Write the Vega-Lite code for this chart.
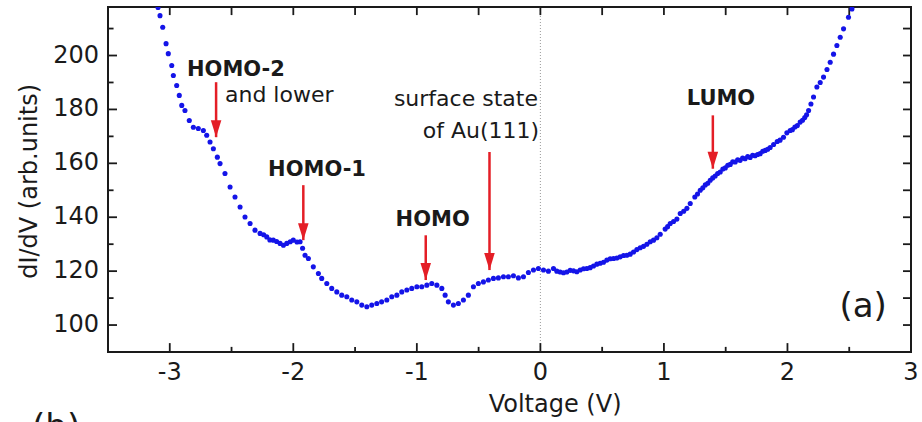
{
  "$schema": "https://vega.github.io/schema/vega-lite/v6.json",
  "width": 803,
  "height": 345,
  "autosize": {"type": "none"},
  "padding": {"left": 108, "top": 7, "right": 11, "bottom": 70},
  "background": "white",
  "config": {
    "view": {"stroke": "#1a1a1a", "strokeWidth": 2},
    "font": "DejaVu Sans"
  },
  "datasets": {
    "curve": [
      {"v": -3.095, "g": 217.8}, {"v": -3.079, "g": 214.8}, {"v": -3.057, "g": 210.5}, {"v": -3.030, "g": 204.4},
      {"v": -3.012, "g": 200.7}, {"v": -2.984, "g": 196.3}, {"v": -2.971, "g": 192.6}, {"v": -2.944, "g": 188.9},
      {"v": -2.923, "g": 185.2}, {"v": -2.903, "g": 181.5}, {"v": -2.877, "g": 179.6}, {"v": -2.842, "g": 175.9},
      {"v": -2.809, "g": 173.4}, {"v": -2.769, "g": 172.9}, {"v": -2.728, "g": 172.2}, {"v": -2.701, "g": 170.4},
      {"v": -2.674, "g": 167.9}, {"v": -2.647, "g": 165.4}, {"v": -2.615, "g": 162.3}, {"v": -2.593, "g": 159.9},
      {"v": -2.553, "g": 156.2}, {"v": -2.512, "g": 151.2}, {"v": -2.472, "g": 147.5}, {"v": -2.431, "g": 143.8},
      {"v": -2.391, "g": 140.1}, {"v": -2.350, "g": 137.7}, {"v": -2.310, "g": 135.2}, {"v": -2.269, "g": 134.0},
      {"v": -2.240, "g": 133.5}, {"v": -2.215, "g": 132.7}, {"v": -2.190, "g": 131.6}, {"v": -2.162, "g": 131.5},
      {"v": -2.135, "g": 131.0}, {"v": -2.107, "g": 130.3}, {"v": -2.080, "g": 129.6}, {"v": -2.053, "g": 130.3},
      {"v": -2.025, "g": 130.9}, {"v": -2.000, "g": 131.5}, {"v": -1.970, "g": 130.8}, {"v": -1.945, "g": 130.9},
      {"v": -1.925, "g": 128.5}, {"v": -1.905, "g": 125.9}, {"v": -1.878, "g": 124.7}, {"v": -1.838, "g": 121.6},
      {"v": -1.797, "g": 119.1}, {"v": -1.770, "g": 117.3}, {"v": -1.729, "g": 115.4}, {"v": -1.689, "g": 113.6},
      {"v": -1.648, "g": 112.3}, {"v": -1.608, "g": 111.1}, {"v": -1.567, "g": 110.5}, {"v": -1.527, "g": 109.3},
      {"v": -1.486, "g": 108.6}, {"v": -1.446, "g": 107.4}, {"v": -1.405, "g": 106.8}, {"v": -1.365, "g": 107.4},
      {"v": -1.324, "g": 108.0}, {"v": -1.285, "g": 108.6}, {"v": -1.243, "g": 109.3}, {"v": -1.203, "g": 110.5},
      {"v": -1.162, "g": 111.1}, {"v": -1.122, "g": 112.3}, {"v": -1.081, "g": 113.0}, {"v": -1.041, "g": 113.6},
      {"v": -1.000, "g": 114.2}, {"v": -0.960, "g": 114.2}, {"v": -0.919, "g": 114.8}, {"v": -0.879, "g": 115.4},
      {"v": -0.838, "g": 114.8}, {"v": -0.798, "g": 113.6}, {"v": -0.771, "g": 111.1}, {"v": -0.745, "g": 108.6},
      {"v": -0.704, "g": 107.4}, {"v": -0.664, "g": 108.0}, {"v": -0.623, "g": 109.3}, {"v": -0.583, "g": 111.1},
      {"v": -0.542, "g": 114.2}, {"v": -0.502, "g": 115.4}, {"v": -0.461, "g": 116.0}, {"v": -0.421, "g": 116.7},
      {"v": -0.380, "g": 117.3}, {"v": -0.340, "g": 117.5}, {"v": -0.299, "g": 117.9}, {"v": -0.259, "g": 117.9},
      {"v": -0.218, "g": 118.3}, {"v": -0.178, "g": 117.5}, {"v": -0.137, "g": 117.9}, {"v": -0.097, "g": 119.5},
      {"v": -0.056, "g": 120.4}, {"v": -0.016, "g": 121.0}, {"v": 0.025, "g": 120.4}, {"v": 0.065, "g": 120.0},
      {"v": 0.106, "g": 121.0}, {"v": 0.133, "g": 120.0}, {"v": 0.160, "g": 119.7}, {"v": 0.187, "g": 119.4},
      {"v": 0.214, "g": 119.7}, {"v": 0.241, "g": 120.3}, {"v": 0.268, "g": 120.1}, {"v": 0.295, "g": 119.8},
      {"v": 0.322, "g": 120.4}, {"v": 0.349, "g": 120.9}, {"v": 0.376, "g": 121.0}, {"v": 0.403, "g": 121.3},
      {"v": 0.430, "g": 121.9}, {"v": 0.457, "g": 122.6}, {"v": 0.484, "g": 122.9}, {"v": 0.511, "g": 123.3},
      {"v": 0.538, "g": 124.1}, {"v": 0.565, "g": 124.6}, {"v": 0.592, "g": 124.7}, {"v": 0.619, "g": 124.9},
      {"v": 0.646, "g": 125.3}, {"v": 0.673, "g": 125.8}, {"v": 0.700, "g": 125.9}, {"v": 0.727, "g": 126.3},
      {"v": 0.754, "g": 127.1}, {"v": 0.781, "g": 128.0}, {"v": 0.808, "g": 128.7}, {"v": 0.835, "g": 129.2},
      {"v": 0.862, "g": 130.0}, {"v": 0.889, "g": 130.9}, {"v": 0.916, "g": 131.5}, {"v": 0.943, "g": 132.4},
      {"v": 0.970, "g": 133.7}, {"v": 1.010, "g": 135.6}, {"v": 1.030, "g": 136.5}, {"v": 1.051, "g": 137.7},
      {"v": 1.078, "g": 138.4}, {"v": 1.105, "g": 139.3}, {"v": 1.132, "g": 141.4}, {"v": 1.160, "g": 142.2},
      {"v": 1.186, "g": 143.3}, {"v": 1.213, "g": 145.1}, {"v": 1.250, "g": 147.5}, {"v": 1.272, "g": 148.6},
      {"v": 1.294, "g": 150.0}, {"v": 1.315, "g": 150.9}, {"v": 1.335, "g": 152.0}, {"v": 1.355, "g": 152.6},
      {"v": 1.375, "g": 153.7}, {"v": 1.395, "g": 154.6}, {"v": 1.415, "g": 155.3}, {"v": 1.435, "g": 156.2},
      {"v": 1.456, "g": 156.8}, {"v": 1.477, "g": 157.9}, {"v": 1.497, "g": 158.3}, {"v": 1.517, "g": 159.3},
      {"v": 1.537, "g": 159.6}, {"v": 1.557, "g": 160.6}, {"v": 1.577, "g": 160.5}, {"v": 1.597, "g": 161.3},
      {"v": 1.617, "g": 161.1}, {"v": 1.637, "g": 162.0}, {"v": 1.657, "g": 161.7}, {"v": 1.678, "g": 162.5},
      {"v": 1.698, "g": 162.2}, {"v": 1.718, "g": 163.0}, {"v": 1.738, "g": 162.8}, {"v": 1.758, "g": 163.3},
      {"v": 1.779, "g": 163.6}, {"v": 1.800, "g": 164.5}, {"v": 1.820, "g": 164.8}, {"v": 1.840, "g": 165.2},
      {"v": 1.860, "g": 165.9}, {"v": 1.888, "g": 167.0}, {"v": 1.917, "g": 168.1}, {"v": 1.940, "g": 168.6},
      {"v": 1.968, "g": 169.7}, {"v": 1.995, "g": 171.3}, {"v": 2.022, "g": 172.2}, {"v": 2.040, "g": 172.5},
      {"v": 2.060, "g": 173.5}, {"v": 2.080, "g": 174.0}, {"v": 2.103, "g": 175.3}, {"v": 2.122, "g": 176.0},
      {"v": 2.140, "g": 177.0}, {"v": 2.155, "g": 178.0}, {"v": 2.171, "g": 179.6}, {"v": 2.190, "g": 182.0},
      {"v": 2.211, "g": 184.6}, {"v": 2.238, "g": 188.3}, {"v": 2.265, "g": 190.0}, {"v": 2.292, "g": 192.0},
      {"v": 2.320, "g": 194.8}, {"v": 2.346, "g": 197.5}, {"v": 2.373, "g": 200.5}, {"v": 2.400, "g": 203.7},
      {"v": 2.427, "g": 206.8}, {"v": 2.454, "g": 209.9}, {"v": 2.494, "g": 214.2}, {"v": 2.522, "g": 217.3}
    ],
    "arrows": [
      {"v": -2.625, "top": 190.1, "tip": 169.7},
      {"v": -1.919, "top": 151.9, "tip": 131.5},
      {"v": -0.928, "top": 133.3, "tip": 116.7},
      {"v": -0.412, "top": 164.2, "tip": 120.4},
      {"v": 1.396, "top": 177.8, "tip": 158.0}
    ],
    "bold": [
      {"v": -2.464, "g": 194.8, "label": "HOMO-2"},
      {"v": -1.808, "g": 157.4, "label": "HOMO-1"},
      {"v": -0.872, "g": 138.9, "label": "HOMO"},
      {"v": 1.462, "g": 184.0, "label": "LUMO"}
    ],
    "leftText": [
      {"v": -2.553, "g": 185.2, "label": "and lower"}
    ],
    "rightText": [
      {"v": -0.02, "g": 183.7, "label": "surface state"},
      {"v": -0.01, "g": 171.9, "label": "of Au(111)"}
    ],
    "panel": [
      {"v": 2.613, "g": 106.7, "label": "(a)"}
    ],
    "panelB": [
      {"v": -3.92, "g": 58.0, "label": "(b)"}
    ],
    "zero": [{"v": 0}],
    "xMajor": [{"v": -3}, {"v": -2}, {"v": -1}, {"v": 0}, {"v": 1}, {"v": 2}],
    "xMinor": [{"v": -2.5}, {"v": -1.5}, {"v": -0.5}, {"v": 0.5}, {"v": 1.5}, {"v": 2.5}],
    "xTop": [{"v": -3}, {"v": -2.5}, {"v": -2}, {"v": -1.5}, {"v": -1}, {"v": -0.5}, {"v": 0}, {"v": 0.5}, {"v": 1}, {"v": 1.5}, {"v": 2}, {"v": 2.5}],
    "yMajor": [{"g": 100}, {"g": 120}, {"g": 140}, {"g": 160}, {"g": 180}, {"g": 200}],
    "yMinor": [{"g": 110}, {"g": 130}, {"g": 150}, {"g": 170}, {"g": 190}, {"g": 210}],
    "yRight": [{"g": 100}, {"g": 110}, {"g": 120}, {"g": 130}, {"g": 140}, {"g": 150}, {"g": 160}, {"g": 170}, {"g": 180}, {"g": 190}, {"g": 200}, {"g": 210}],
    "xLabels": [{"v": -3, "label": "-3"}, {"v": -2, "label": "-2"}, {"v": -1, "label": "-1"}, {"v": 0, "label": "0"}, {"v": 1, "label": "1"}, {"v": 2, "label": "2"}, {"v": 3, "label": "3"}],
    "yLabels": [{"g": 100, "label": "100"}, {"g": 120, "label": "120"}, {"g": 140, "label": "140"}, {"g": 160, "label": "160"}, {"g": 180, "label": "180"}, {"g": 200, "label": "200"}],
    "xTitle": [{"v": 0.119, "label": "Voltage (V)"}],
    "yTitle": [{"g": 153.3, "label": "dI/dV  (arb.units)"}]
  },
  "layer": [
    {
      "data": {"name": "zero"},
      "mark": {"type": "rule", "color": "#9a9a9a", "strokeDash": [1, 2], "strokeWidth": 1},
      "encoding": {
        "x": {"field": "v", "type": "quantitative", "scale": {"domain": [-3.5, 3], "nice": false, "zero": false}, "axis": null}
      }
    },
    {
      "data": {"name": "xMajor"},
      "mark": {"type": "rule", "color": "#1a1a1a", "strokeWidth": 1.8},
      "encoding": {
        "x": {"field": "v", "type": "quantitative", "scale": {"domain": [-3.5, 3], "nice": false, "zero": false}, "axis": null},
        "y": {"datum": 90, "type": "quantitative", "scale": {"domain": [90, 218], "nice": false, "zero": false}, "axis": null},
        "y2": {"datum": 93.3}
      }
    },
    {
      "data": {"name": "xMinor"},
      "mark": {"type": "rule", "color": "#1a1a1a", "strokeWidth": 1.8},
      "encoding": {
        "x": {"field": "v", "type": "quantitative", "scale": {"domain": [-3.5, 3], "nice": false, "zero": false}, "axis": null},
        "y": {"datum": 90, "type": "quantitative", "scale": {"domain": [90, 218], "nice": false, "zero": false}, "axis": null},
        "y2": {"datum": 91.9}
      }
    },
    {
      "data": {"name": "xTop"},
      "mark": {"type": "rule", "color": "#1a1a1a", "strokeWidth": 1.8},
      "encoding": {
        "x": {"field": "v", "type": "quantitative", "scale": {"domain": [-3.5, 3], "nice": false, "zero": false}, "axis": null},
        "y": {"datum": 218, "type": "quantitative", "scale": {"domain": [90, 218], "nice": false, "zero": false}, "axis": null},
        "y2": {"datum": 215.0}
      }
    },
    {
      "data": {"name": "yMajor"},
      "mark": {"type": "rule", "color": "#1a1a1a", "strokeWidth": 1.8},
      "encoding": {
        "y": {"field": "g", "type": "quantitative", "scale": {"domain": [90, 218], "nice": false, "zero": false}, "axis": null},
        "x": {"datum": -3.5, "type": "quantitative", "scale": {"domain": [-3.5, 3], "nice": false, "zero": false}, "axis": null},
        "x2": {"datum": -3.427}
      }
    },
    {
      "data": {"name": "yMinor"},
      "mark": {"type": "rule", "color": "#1a1a1a", "strokeWidth": 1.8},
      "encoding": {
        "y": {"field": "g", "type": "quantitative", "scale": {"domain": [90, 218], "nice": false, "zero": false}, "axis": null},
        "x": {"datum": -3.5, "type": "quantitative", "scale": {"domain": [-3.5, 3], "nice": false, "zero": false}, "axis": null},
        "x2": {"datum": -3.455}
      }
    },
    {
      "data": {"name": "yRight"},
      "mark": {"type": "rule", "color": "#1a1a1a", "strokeWidth": 1.8},
      "encoding": {
        "y": {"field": "g", "type": "quantitative", "scale": {"domain": [90, 218], "nice": false, "zero": false}, "axis": null},
        "x": {"datum": 3, "type": "quantitative", "scale": {"domain": [-3.5, 3], "nice": false, "zero": false}, "axis": null},
        "x2": {"datum": 2.935}
      }
    },
    {
      "data": {"name": "xLabels"},
      "mark": {"type": "text", "font": "DejaVu Sans", "fontSize": 24, "align": "center", "baseline": "middle", "dy": 21, "color": "#1a1a1a"},
      "encoding": {
        "x": {"field": "v", "type": "quantitative", "scale": {"domain": [-3.5, 3], "nice": false, "zero": false}, "axis": null},
        "y": {"datum": 90, "type": "quantitative", "scale": {"domain": [90, 218], "nice": false, "zero": false}, "axis": null},
        "text": {"field": "label"}
      }
    },
    {
      "data": {"name": "yLabels"},
      "mark": {"type": "text", "font": "DejaVu Sans", "fontSize": 24, "align": "right", "baseline": "middle", "dx": -9, "color": "#1a1a1a"},
      "encoding": {
        "y": {"field": "g", "type": "quantitative", "scale": {"domain": [90, 218], "nice": false, "zero": false}, "axis": null},
        "x": {"datum": -3.5, "type": "quantitative", "scale": {"domain": [-3.5, 3], "nice": false, "zero": false}, "axis": null},
        "text": {"field": "label"}
      }
    },
    {
      "data": {"name": "xTitle"},
      "mark": {"type": "text", "font": "DejaVu Sans", "fontSize": 24, "align": "center", "baseline": "middle", "dy": 53, "color": "#1a1a1a"},
      "encoding": {
        "x": {"field": "v", "type": "quantitative", "scale": {"domain": [-3.5, 3], "nice": false, "zero": false}, "axis": null},
        "y": {"datum": 90, "type": "quantitative", "scale": {"domain": [90, 218], "nice": false, "zero": false}, "axis": null},
        "text": {"field": "label"}
      }
    },
    {
      "data": {"name": "yTitle"},
      "mark": {"type": "text", "font": "DejaVu Sans", "fontSize": 24, "align": "center", "baseline": "middle", "angle": 270, "color": "#1a1a1a"},
      "encoding": {
        "y": {"field": "g", "type": "quantitative", "scale": {"domain": [90, 218], "nice": false, "zero": false}, "axis": null},
        "x": {"datum": -4.132, "type": "quantitative", "scale": {"domain": [-3.5, 3], "nice": false, "zero": false}, "axis": null},
        "text": {"field": "label"}
      }
    },
    {
      "data": {"name": "curve"},
      "mark": {"type": "circle", "size": 26, "color": "#1414e8", "opacity": 1, "clip": true},
      "encoding": {
        "x": {"field": "v", "type": "quantitative", "scale": {"domain": [-3.5, 3], "nice": false, "zero": false}, "axis": null},
        "y": {"field": "g", "type": "quantitative", "scale": {"domain": [90, 218], "nice": false, "zero": false}, "axis": null}
      }
    },
    {
      "data": {"name": "arrows"},
      "mark": {"type": "rule", "color": "#e41e26", "strokeWidth": 2.5},
      "encoding": {
        "x": {"field": "v", "type": "quantitative", "scale": {"domain": [-3.5, 3], "nice": false, "zero": false}, "axis": null},
        "y": {"field": "top", "type": "quantitative", "scale": {"domain": [90, 218], "nice": false, "zero": false}, "axis": null},
        "y2": {"field": "tip"}
      }
    },
    {
      "data": {"name": "arrows"},
      "mark": {"type": "point", "filled": true, "opacity": 1, "color": "#e41e26", "size": 289, "shape": "M-0.62,-2L0.62,-2L0,0Z"},
      "encoding": {
        "x": {"field": "v", "type": "quantitative", "scale": {"domain": [-3.5, 3], "nice": false, "zero": false}, "axis": null},
        "y": {"field": "tip", "type": "quantitative", "scale": {"domain": [90, 218], "nice": false, "zero": false}, "axis": null}
      }
    },
    {
      "data": {"name": "bold"},
      "mark": {"type": "text", "font": "DejaVu Sans", "fontWeight": "bold", "fontSize": 21, "align": "center", "baseline": "middle", "color": "#1a1a1a"},
      "encoding": {
        "x": {"field": "v", "type": "quantitative", "scale": {"domain": [-3.5, 3], "nice": false, "zero": false}, "axis": null},
        "y": {"field": "g", "type": "quantitative", "scale": {"domain": [90, 218], "nice": false, "zero": false}, "axis": null},
        "text": {"field": "label"}
      }
    },
    {
      "data": {"name": "leftText"},
      "mark": {"type": "text", "font": "DejaVu Sans", "fontSize": 22, "align": "left", "baseline": "middle", "color": "#1a1a1a"},
      "encoding": {
        "x": {"field": "v", "type": "quantitative", "scale": {"domain": [-3.5, 3], "nice": false, "zero": false}, "axis": null},
        "y": {"field": "g", "type": "quantitative", "scale": {"domain": [90, 218], "nice": false, "zero": false}, "axis": null},
        "text": {"field": "label"}
      }
    },
    {
      "data": {"name": "rightText"},
      "mark": {"type": "text", "font": "DejaVu Sans", "fontSize": 22, "align": "right", "baseline": "middle", "color": "#1a1a1a"},
      "encoding": {
        "x": {"field": "v", "type": "quantitative", "scale": {"domain": [-3.5, 3], "nice": false, "zero": false}, "axis": null},
        "y": {"field": "g", "type": "quantitative", "scale": {"domain": [90, 218], "nice": false, "zero": false}, "axis": null},
        "text": {"field": "label"}
      }
    },
    {
      "data": {"name": "panel"},
      "mark": {"type": "text", "font": "DejaVu Sans", "fontSize": 34, "align": "center", "baseline": "middle", "color": "#1a1a1a"},
      "encoding": {
        "x": {"field": "v", "type": "quantitative", "scale": {"domain": [-3.5, 3], "nice": false, "zero": false}, "axis": null},
        "y": {"field": "g", "type": "quantitative", "scale": {"domain": [90, 218], "nice": false, "zero": false}, "axis": null},
        "text": {"field": "label"}
      }
    },
    {
      "data": {"name": "panelB"},
      "mark": {"type": "text", "font": "DejaVu Sans", "fontSize": 34, "align": "center", "baseline": "alphabetic", "color": "#1a1a1a"},
      "encoding": {
        "x": {"field": "v", "type": "quantitative", "scale": {"domain": [-3.5, 3], "nice": false, "zero": false}, "axis": null},
        "y": {"field": "g", "type": "quantitative", "scale": {"domain": [90, 218], "nice": false, "zero": false}, "axis": null},
        "text": {"field": "label"}
      }
    }
  ]
}
